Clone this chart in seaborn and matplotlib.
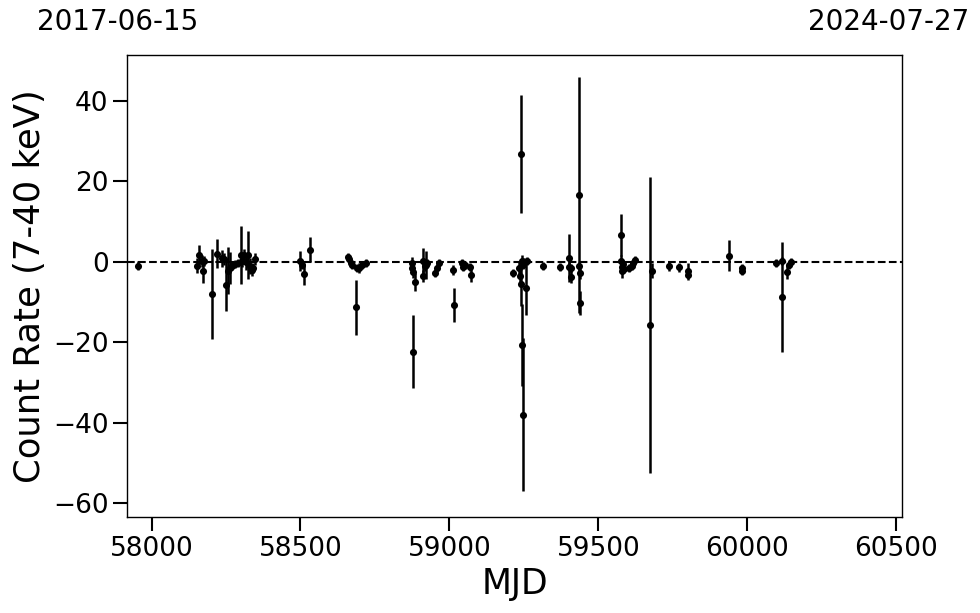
import pandas as pd
import matplotlib
matplotlib.use('Agg')
import matplotlib.pyplot as plt
import seaborn as sns

# 观测时间 (MJD)、计数率及误差
mjd = [57956,
       58152, 58160, 58171, 58173, 58177, 58204, 58220, 58236, 58242, 58250,
       58258, 58262, 58270, 58280, 58290, 58300, 58305, 58311, 58318, 58324,
       58330, 58336, 58342, 58349,
       58499, 58505, 58512, 58533,
       58659, 58664, 58668, 58673, 58685, 58691, 58695, 58706, 58720,
       58874, 58876, 58877, 58879, 58883, 58911, 58913, 58918, 58921, 58926,
       58952, 58958, 58966,
       59013, 59016, 59042, 59047, 59052, 59070, 59072,
       59215, 59234, 59237, 59239, 59241, 59243, 59245, 59246, 59247, 59251,
       59257, 59262,
       59315, 59371, 59400, 59403, 59408, 59409, 59436, 59436, 59437, 59437,
       59575, 59576, 59578, 59580, 59583, 59586, 59604, 59612, 59617, 59623,
       59673, 59679, 59738, 59770, 59802, 59802, 59940, 59983, 59983,
       60095, 60115, 60117, 60132, 60141, 60147]
rate = [-1.0,
        -1.0, 1.7, 0.3, -2.4, 0.2, -8.0, 2.0, 0.9, 0.7, -5.7,
        -2.2, -1.5, -1.0, -0.5, -0.2, 1.7, 0.2, 1.7, 0.0, 1.7,
        -1.0, -2.0, -1.5, 0.7,
        0.3, -0.7, -3.0, 3.0,
        1.3, 0.8, -0.3, -0.8, -11.3, -1.6, -1.6, -0.7, -0.2,
        -0.2, -1.5, -2.5, -22.3, -5.0, 0.1, -3.6, -1.0, -0.7, -0.3,
        -2.8, -1.6, -0.3,
        -2.0, -10.7, -0.3, -1.2, -0.8, -1.2, -3.2,
        -2.8, -1.6, -3.6, -5.5, 26.8, 0.1, -20.6, -38.0, -0.7, 0.0,
        -6.5, 0.1,
        -1.0, -1.3, -1.2, 0.9, -3.8, -1.6, 16.6, -1.0, -2.8, -10.3,
        6.7, 0.1, -1.2, -2.4, -0.5, -1.8, -1.6, -1.0, -0.3, 0.5,
        -15.7, -2.2, -1.0, -1.4, -2.2, -3.2, 1.5, -1.6, -2.2,
        -0.2, 0.1, -8.7, -2.6, -0.7, -0.1]
rate_err = [1.1,
            1.9, 2.5, 1.5, 2.9, 1.2, 11.2, 3.6, 2.1, 1.5, 6.5,
            5.9, 4.0, 1.0, 1.0, 1.0, 7.3, 1.5, 1.5, 2.0, 6.0,
            2.0, 1.5, 1.2, 1.5,
            2.5, 1.2, 2.7, 3.1,
            1.0, 1.0, 1.0, 1.0, 6.8, 1.0, 1.2, 1.0, 1.0,
            1.5, 1.2, 1.5, 9.0, 2.3, 3.3, 1.5, 1.2, 3.5, 1.0,
            1.0, 1.0, 1.0,
            1.2, 4.3, 1.0, 1.2, 1.0, 1.0, 1.8,
            1.0, 1.5, 2.0, 5.5, 14.7, 1.5, 10.2, 19.0, 1.2, 1.0,
            6.7, 1.0,
            1.0, 1.0, 1.2, 6.0, 1.5, 1.0, 29.4, 1.0, 1.5, 3.0,
            5.2, 1.5, 1.5, 1.5, 1.0, 1.0, 1.0, 1.0, 1.0, 1.0,
            36.8, 1.8, 1.2, 1.2, 1.9, 1.2, 3.8, 1.0, 1.0,
            1.0, 1.0, 13.6, 1.7, 1.0, 1.0]

# 横轴范围及对应日期
mjd_start, mjd_end = 57919, 60518
date_start, date_end = '2017-06-15', '2024-07-27'


def main():
    df = pd.DataFrame({'MJD': mjd, 'rate': rate, 'err': rate_err})

    sns.set_theme(style='ticks')
    plt.rcParams['font.family'] = ['DejaVu Sans']
    plt.rcParams['text.color'] = 'black'
    plt.rcParams['axes.labelcolor'] = 'black'

    fig = plt.figure(figsize=(9.8, 6.13), dpi=100)
    ax = fig.add_axes([0.130, 0.157, 0.790, 0.753])

    ax.axhline(0, color='black', linestyle='--', linewidth=1.5, zorder=1)
    ax.errorbar(df['MJD'], df['rate'], yerr=df['err'], fmt='none',
                ecolor='black', elinewidth=1.8, capsize=0, zorder=2)
    sns.scatterplot(data=df, x='MJD', y='rate', ax=ax, color='black',
                    s=26, edgecolor='black', linewidth=0, zorder=3)

    ax.set_xlim(mjd_start, mjd_end)
    ax.set_ylim(-63.3, 51.3)
    ax.set_xticks([58000, 58500, 59000, 59500, 60000, 60500])
    ax.set_yticks([-60, -40, -20, 0, 20, 40])
    ax.set_xlabel('MJD', fontsize=25, color='black')
    ax.set_ylabel('Count Rate (7-40 keV)', fontsize=25.5, color='black')
    ax.tick_params(axis='both', labelsize=19, length=10, width=1.5,
                   color='black', labelcolor='black')
    for spine in ax.spines.values():
        spine.set_color('black')
        spine.set_linewidth(1.0)

    fig.text(118 / 980, 1 - 22 / 613, date_start, fontsize=20,
             ha='center', va='center', color='black')
    fig.text(889 / 980, 1 - 22 / 613, date_end, fontsize=20,
             ha='center', va='center', color='black')

    fig.savefig('out.png', dpi=100)


if __name__ == '__main__':
    main()
